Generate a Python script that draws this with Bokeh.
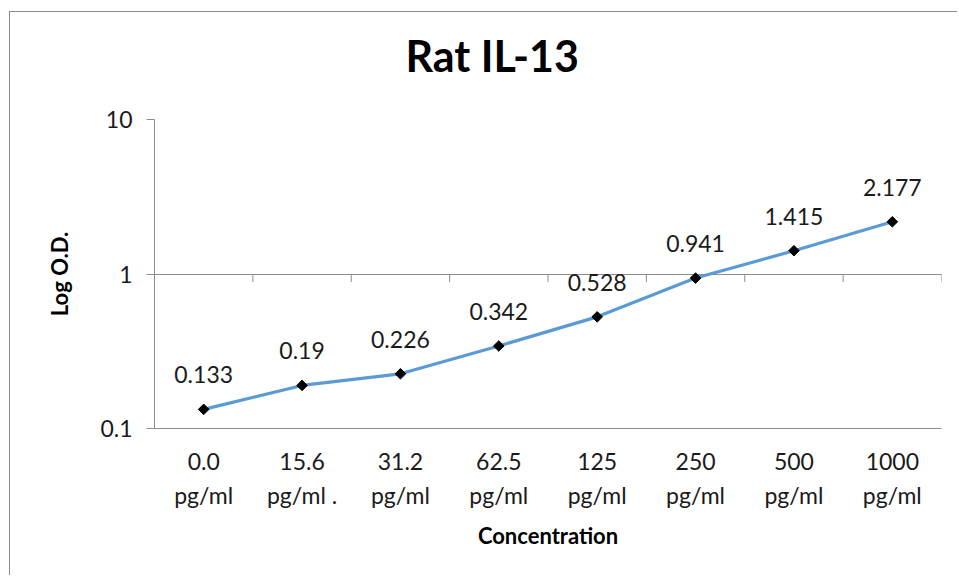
import math
from bokeh.plotting import figure
from bokeh.core.properties import value
from bokeh.models import Range1d, FixedTicker, CustomJSTickFormatter, LabelSet, ColumnDataSource, Title
from bokeh.embed import file_html
from bokeh.resources import INLINE

title_text = "Rat IL-13"
categories = ["0.0\npg/ml", "15.6\npg/ml .", "31.2\npg/ml", "62.5\npg/ml",
              "125\npg/ml", "250\npg/ml", "500\npg/ml", "1000\npg/ml"]
od_values = [0.133, 0.19, 0.226, 0.342, 0.528, 0.941, 1.415, 2.177]
y_ticks = [0.1, 1, 10]
y_tick_labels = ["0.1", "1", "10"]
x_title = "Concentration"
y_title = "Log O.D."

FONT = "Lato"
GRAY = "#8C8C8C"
TEXT = "#1A1A1A"
LINE_BLUE = "#5B9BD5"

n = len(categories)
xs = [i + 0.5 for i in range(n)]
labels = [str(v) for v in od_values]
src = ColumnDataSource(dict(x=xs, y=od_values, label=labels))

p = figure(width=948, height=564, output_backend="svg", toolbar_location=None,
           y_axis_type="log", x_range=Range1d(0, n), y_range=Range1d(0.1, 10),
           min_border_left=144, min_border_right=17, min_border_top=107,
           min_border_bottom=148, title=title_text)
p.margin = (11, 0, 0, 9)
p.styles = {"border-left": f"1px solid {GRAY}", "border-top": f"1px solid {GRAY}"}
p.outline_line_color = None
p.background_fill_color = "white"
p.border_fill_color = "white"

# spacer between the frame and the chart title
p.add_layout(Title(text=" ", text_font_size="1px", standoff=31), "above")

# chart title (centred on the whole chart area, like the original)
p.title.text_font = FONT
p.title.text_font_size = "43px"
p.title.text_font_style = "bold"
p.title.text_color = "black"
p.title.align = "left"
p.title.offset = 251
p.title.standoff = 10

# x axis
p.xaxis.ticker = FixedTicker(ticks=xs)
p.xaxis.formatter = CustomJSTickFormatter(args=dict(cat_labels=categories),
                                          code="return cat_labels[Math.round(tick - 0.5)];")
p.xaxis.major_tick_line_color = None
p.xaxis.minor_tick_line_color = None
p.xaxis.axis_line_color = GRAY
p.xaxis.major_label_standoff = 12
p.xaxis.major_label_text_font = FONT
p.xaxis.major_label_text_font_size = "23px"
p.xaxis.major_label_text_color = TEXT
p.xaxis.major_label_text_line_height = 1.22
p.xaxis.axis_label = x_title
p.xaxis.axis_label_text_font = FONT
p.xaxis.axis_label_text_font_size = "22px"
p.xaxis.axis_label_text_font_style = "bold"
p.xaxis.axis_label_text_color = "black"
p.xaxis.axis_label_standoff = 10

# y axis
p.yaxis.ticker = FixedTicker(ticks=y_ticks)
p.yaxis.formatter = CustomJSTickFormatter(
    args=dict(y_labels=y_tick_labels, y_vals=y_ticks),
    code="for (let i = 0; i < y_vals.length; i++) { if (Math.abs(Math.log10(tick / y_vals[i])) < 1e-6) return y_labels[i]; } return '';")
p.yaxis.axis_line_color = GRAY
p.yaxis.major_tick_line_color = GRAY
p.yaxis.major_tick_in = 0
p.yaxis.major_tick_out = 8
p.yaxis.minor_tick_line_color = None
p.yaxis.major_label_standoff = 14
p.yaxis.major_label_text_font = FONT
p.yaxis.major_label_text_font_size = "23px"
p.yaxis.major_label_text_color = TEXT
p.yaxis.axis_label = y_title
p.yaxis.axis_label_text_font = FONT
p.yaxis.axis_label_text_font_size = "22px"
p.yaxis.axis_label_text_font_style = "bold"
p.yaxis.axis_label_text_color = "black"
p.yaxis.axis_label_standoff = 24

p.xgrid.grid_line_color = None
p.ygrid.ticker = FixedTicker(ticks=y_ticks)
p.ygrid.grid_line_color = GRAY
p.ygrid.grid_line_alpha = 1.0

# category boundary ticks on the horizontal axis crossing at 1
tick_px = 8
px_per_decade = 154.5
boundaries = list(range(1, n + 1))
p.segment(x0=boundaries, y0=[1] * len(boundaries), x1=boundaries,
          y1=[10 ** (-tick_px / px_per_decade)] * len(boundaries),
          line_color=GRAY, line_width=1)

p.line("x", "y", source=src, line_color=LINE_BLUE, line_width=3.2)
p.scatter("x", "y", source=src, marker="square", angle=math.pi / 4, size=7.5,
          fill_color="black", line_color="black")

p.add_layout(LabelSet(x="x", y="y", text="label", source=src, y_offset=26,
                      text_align="center", text_baseline="alphabetic",
                      text_font=value(FONT), text_font_size=value("23px"),
                      text_color=TEXT))

open("out.html", "w").write(file_html(p, INLINE))
